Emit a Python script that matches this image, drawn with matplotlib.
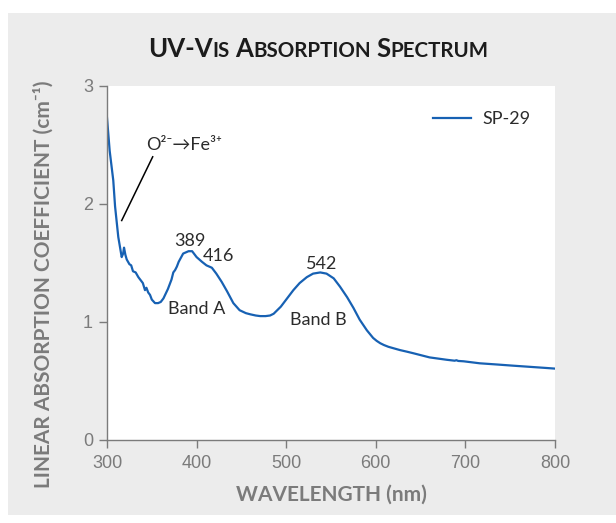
import matplotlib
matplotlib.use("Agg")
import matplotlib.pyplot as plt
from matplotlib.patches import Rectangle

# absorption spectrum of sample SP-29
wavelength = [300, 303, 307, 309, 312.6, 316.4, 318, 319, 320.5, 322, 325, 327, 329,
              332, 335, 337, 340, 342.4, 344, 346, 348, 350, 353.6, 357, 360, 363,
              368, 372, 374, 376, 378, 380, 385, 391, 395, 400, 406, 411, 417, 422,
              428, 434, 441, 448, 455, 460, 466, 471, 477, 482, 486, 490, 494, 501,
              508, 515, 523, 530, 538, 545, 553, 560, 568, 575, 582, 590, 597, 601,
              605, 609, 614, 620, 627, 635, 642, 660, 679, 688, 690, 692, 698, 716,
              735, 753, 772, 791, 800]
absorption = [2.73, 2.45, 2.20, 1.98, 1.72, 1.55, 1.58, 1.63, 1.57, 1.53, 1.49, 1.48, 1.43,
              1.42, 1.38, 1.36, 1.33, 1.27, 1.29, 1.25, 1.23, 1.19, 1.16, 1.16, 1.17, 1.20,
              1.28, 1.36, 1.42, 1.44, 1.47, 1.51, 1.58, 1.60, 1.60, 1.55, 1.51, 1.48, 1.46, 1.41,
              1.34, 1.26, 1.16, 1.10, 1.075, 1.065, 1.055, 1.05, 1.05, 1.055, 1.07, 1.10, 1.13, 1.20,
              1.27, 1.33, 1.38, 1.41, 1.42, 1.41, 1.37, 1.30, 1.21, 1.12, 1.02, 0.93, 0.865, 0.84,
              0.82, 0.805, 0.79, 0.777, 0.762, 0.748, 0.735, 0.70, 0.68, 0.672, 0.676, 0.670, 0.667, 0.65,
              0.64, 0.63, 0.62, 0.61, 0.605]

peak_labels = ["389", "416", "542"]
peak_pos = [(392.5, 1.69), (424, 1.56), (540, 1.49)]
band_labels = ["Band A", "Band B"]
band_pos = [(400, 1.11), (535.5, 1.02)]

xticks = [300, 400, 500, 600, 700, 800]
yticks = [0, 1, 2, 3]

LINE = "#1761b3"
GREY = "#7b7b7b"
TEXT = "#2b2b2b"
FONT = ["Lato", "DejaVu Sans"]

W, H = 616, 523
fig = plt.figure(figsize=(W / 100, H / 100), dpi=100, facecolor="white")
fig.patches.append(Rectangle((8 / W, 1 - 515 / H), (W - 8) / W, (515 - 13) / H,
                             transform=fig.transFigure, facecolor="#ececec",
                             edgecolor="none", zorder=-10))

ax = fig.add_axes([107 / W, 1 - 440 / H, (555 - 107) / W, (440 - 86) / H])
ax.set_facecolor("white")
ax.plot(wavelength, absorption, color=LINE, lw=1.6, label="SP-29")

ax.set_xlim(300, 800)
ax.set_ylim(0, 3)
ax.set_xticks(xticks)
ax.set_yticks(yticks)
for side in ["top", "right"]:
    ax.spines[side].set_visible(False)
for side in ["left", "bottom"]:
    ax.spines[side].set_color(GREY)
    ax.spines[side].set_linewidth(1.0)
ax.tick_params(colors=GREY, labelcolor=GREY, direction="out", length=5.5, width=1,
               labelsize=13)
ax.tick_params(axis="x", pad=5.5)
ax.tick_params(axis="y", pad=4.5)
for lab in ax.get_xticklabels() + ax.get_yticklabels():
    lab.set_family("Liberation Sans")

# labels on the curve
for s, (x, y) in zip(peak_labels, peak_pos):
    ax.text(x, y, s, ha="center", va="center", fontsize=13, color=TEXT, family=FONT)
for s, (x, y) in zip(band_labels, band_pos):
    ax.text(x, y, s, ha="center", va="center", fontsize=13, color=TEXT, family=FONT)
ax.plot([316.4, 351], [1.86, 2.40], color="black", lw=1.1)
ax.text(344, 2.50, "O\u00b2\u207b\u2192Fe\u00b3\u207a", ha="left", va="center", fontsize=13,
        color=TEXT, family=FONT)

leg = ax.legend(loc="center right", bbox_to_anchor=(0.946, 0.907), frameon=False,
                borderpad=0, borderaxespad=0, handlelength=2.1, handletextpad=0.65,
                prop={"family": FONT, "size": 13})
for t in leg.get_texts():
    t.set_color(TEXT)

# axis titles
fig.text(331 / W, 1 - 495 / H, "WAVELENGTH (nm)", ha="center", va="center",
         fontsize=15, fontweight="bold", color=GREY, family=FONT)
fig.text(43 / W, 1 - 284 / H, "LINEAR ABSORPTION COEFFICIENT (cm\u207b\u00b9)",
         ha="center", va="center", rotation=90, fontsize=15, fontweight="bold",
         color=GREY, family=FONT)


def small_caps(x_center, y, words, big, small):
    # draw a title in small caps: each piece is (text, is_capital)
    r = fig.canvas.get_renderer()
    placed = []
    for word in words:
        for s, cap in word:
            t = fig.text(0, y, s, fontsize=big if cap else small, fontweight="bold",
                         color="#1c1c1c", family=FONT, va="baseline")
            placed.append((t, t.get_window_extent(r).width))
        placed.append((None, big * 0.3))
    placed = placed[:-1]
    total = sum(w for _, w in placed)
    x = x_center * W - total / 2
    for t, w in placed:
        if t is not None:
            t.set_x(x / W)
        x += w


small_caps(318 / W, 1 - 57 / H,
           [[("UV-V", True), ("IS", False)],
            [("A", True), ("BSORPTION", False)],
            [("S", True), ("PECTRUM", False)]],
           18.5, 14.8)

fig.savefig("out.png", dpi=100)
